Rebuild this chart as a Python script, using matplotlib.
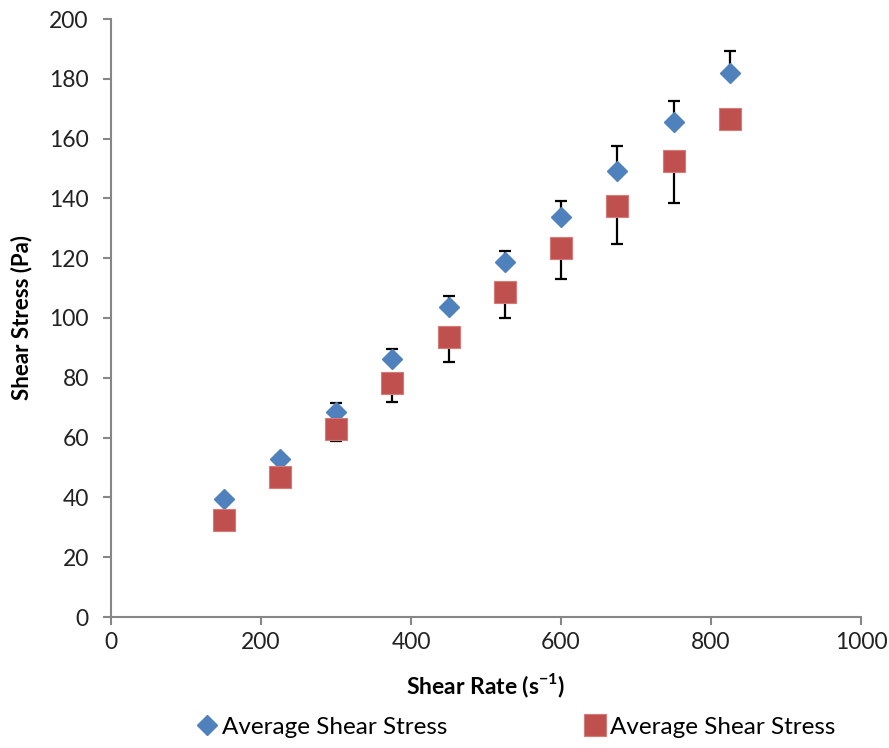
import numpy as np
import matplotlib.pyplot as plt
from matplotlib.lines import Line2D

# Shear rate (1/s)
shear_rate = [150, 225, 300, 375, 450, 525, 600, 675, 750, 825]

# Series 1 (blue diamonds) with upward error bars
stress_blue = [39.3, 52.8, 68.6, 86.3, 103.7, 118.8, 133.8, 149.2, 165.6, 181.8]
err_blue_up = [1.0, 1.0, 3.0, 3.3, 3.7, 3.7, 5.3, 8.3, 7.0, 7.4]

# Series 2 (red squares) with downward error bars
stress_red = [32.6, 46.8, 62.9, 78.3, 93.6, 108.7, 123.4, 137.5, 152.5, 166.6]
err_red_down = [2.5, 3.0, 4.0, 6.4, 8.3, 8.7, 10.4, 12.8, 14.0, 0.0]

blue = '#4F81BD'
red = '#C0504D'

plt.rcParams['font.family'] = ['Lato', 'DejaVu Sans']

fig = plt.figure(figsize=(8.89, 7.48), dpi=100)
ax = fig.add_axes([111 / 889, 1 - 617 / 748, 750 / 889, 598 / 748])

zeros = np.zeros(len(shear_rate))
ax.errorbar(shear_rate, stress_blue, yerr=[zeros, err_blue_up], fmt='none',
            ecolor='black', elinewidth=1.6, capsize=4, capthick=1.6, zorder=2)
ax.errorbar(shear_rate, stress_red, yerr=[err_red_down, zeros], fmt='none',
            ecolor='black', elinewidth=1.6, capsize=4, capthick=1.6, zorder=2)

ax.plot(shear_rate, stress_blue, linestyle='none', marker='D', markersize=10.2,
        color=blue, markeredgecolor=blue, zorder=3)
ax.plot(shear_rate, stress_red, linestyle='none', marker='s', markersize=15.5,
        color=red, markeredgecolor='#D47A78', markeredgewidth=0.8, zorder=3)

ax.set_xlim(0, 1000)
ax.set_ylim(0, 200)
ax.set_xticks(np.arange(0, 1001, 200))
ax.set_yticks(np.arange(0, 201, 20))

for side in ['top', 'right']:
    ax.spines[side].set_visible(False)
for side in ['left', 'bottom']:
    ax.spines[side].set_color('#868686')
    ax.spines[side].set_linewidth(1.5)
ax.tick_params(axis='both', direction='out', length=6, width=1.5,
               color='#868686', labelsize=16.5, labelcolor='#222222')
ax.tick_params(axis='y', pad=10)
ax.tick_params(axis='x', pad=5)

ax.set_xlabel('Shear Rate (s$^{\\mathregular{-1}}$)', fontsize=16.5, fontweight='bold',
              labelpad=13)
ax.set_ylabel('Shear Stress (Pa)', fontsize=16, fontweight='bold', labelpad=12)

handles = [
    Line2D([], [], linestyle='none', marker='D', markersize=10.2, color=blue),
    Line2D([], [], linestyle='none', marker='s', markersize=15.5, color=red,
           markeredgecolor='#D47A78', markeredgewidth=0.8),
]
fig.legend(handles, ['Average Shear Stress', 'Average Shear Stress'],
           loc='center', bbox_to_anchor=(0.582, 1 - 727 / 748), ncol=2,
           frameon=False, fontsize=17.5, handlelength=0.6, handletextpad=0.3,
           columnspacing=5.8)

fig.savefig('out.png', dpi=100)
